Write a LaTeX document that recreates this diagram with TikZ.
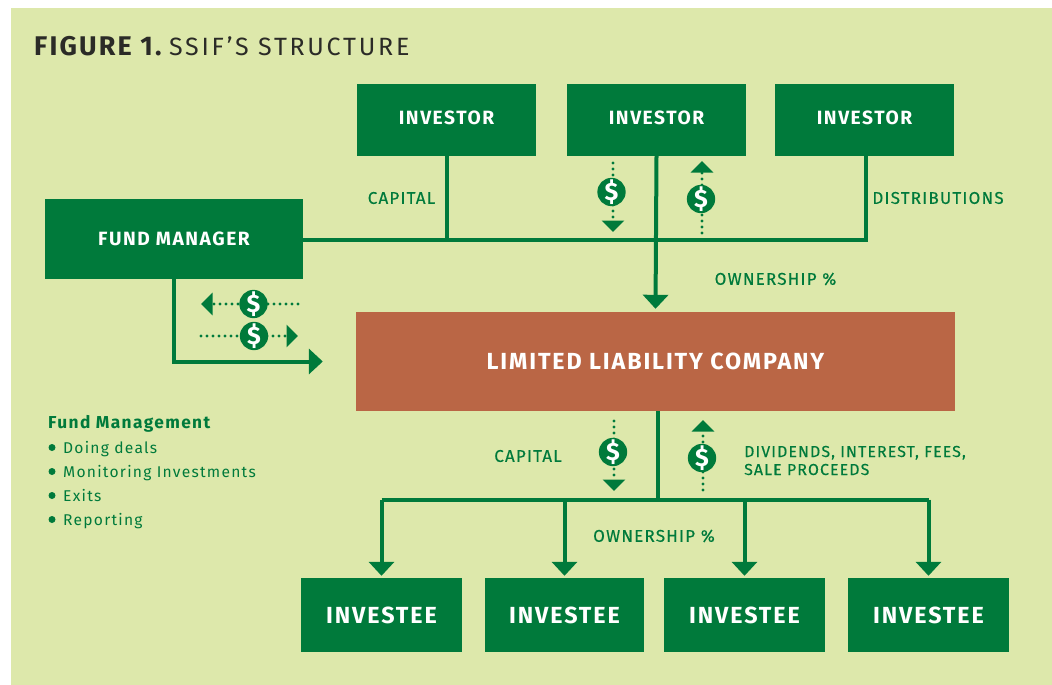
\documentclass[tikz,border=0pt]{standalone}
\usepackage{fontspec}
\setmainfont{Fira Sans}
\newfontfamily\wide[LetterSpace=8]{Fira Sans}
\newfontfamily\widest[LetterSpace=11]{Fira Sans}
\newfontfamily\labfont[LetterSpace=7,FakeBold=0.3]{Fira Sans}
\usetikzlibrary{arrows.meta}
\definecolor{panel}{HTML}{DDE8AB}
\definecolor{fundgreen}{HTML}{007A3B}
\definecolor{rust}{HTML}{BA6645}
\definecolor{ink}{HTML}{2B2B27}
\tikzset{
	box/.style={fill=fundgreen, text=white, inner sep=0pt, font=\wide\bfseries\fontsize{19.2}{22}\selectfont},
	bigbox/.style={box, font=\wide\bfseries\fontsize{23.3}{26}\selectfont},
	lab/.style={text=fundgreen, inner sep=0pt, font=\labfont\fontsize{17}{20}\selectfont},
	link/.style={draw=fundgreen, line width=4pt},
	flow/.style={link, -{Triangle[length=14pt,width=25pt]}},
	money/.style={draw=fundgreen, line width=3.4pt, line cap=round, dash pattern=on 0pt off 6pt, -{Triangle[length=11.5pt,width=22pt,line cap=butt]}},
	badge/.style={circle, fill=fundgreen, text=white, minimum size=28pt, inner sep=0pt, font=\bfseries\fontsize{25}{25}\selectfont}
}
\begin{document}
\begin{tikzpicture}[x=1pt, y=-1pt, line join=miter]
	\useasboundingbox (0,0) rectangle (1052,685);
	\fill[white] (0,0) rectangle (1052,685);
	\fill[panel] (11,8) rectangle (1052,685);
	\node[anchor=base west, inner sep=0pt, text=ink, font=\fontsize{27}{30}\selectfont] (title) at (34,56) {{\wide\bfseries FIGURE 1.}\hspace{-2pt} {\widest\fontsize{25}{30}\selectfont SSIF’S STRUCTURE}};
	% investors
	\foreach \i/\xc in {1/446.5,2/656.5,3/864.5}
		\node[box, text depth=4pt, minimum width=179pt, minimum height=72pt] (inv\i) at (\xc,120) {INVESTOR};
	\node[box, minimum width=258pt, minimum height=80pt] (mgr) at (174,239) {FUND MANAGER};
	\node[bigbox, fill=rust, minimum width=599pt, minimum height=99pt] (llc) at (655.5,361.5) {LIMITED LIABILITY COMPANY};
	% investees
	\foreach \i/\xc/\w in {1/381.5/161,2/564.5/159,3/744.5/161,4/928.5/161}
		\node[bigbox, minimum width=\w pt, minimum height=74pt] (ee\i) at (\xc,615) {INVESTEE};
	% top lines
	\coordinate (j3) at (866,240);
	\coordinate (trunk) at (658,499.5);
	\draw[link] (mgr.east |- j3) -- (j3) -- (inv3.south -| j3);
	\draw[link] (inv1.south) -- (inv1.south |- j3);
	\draw[flow, shorten >=3pt] (inv2.south) -- (llc.north);
	\draw[flow, shorten >=33pt] (mgr.south) |- (llc.west);
	% lower lines
	\draw[link] (llc.south -| trunk) -- (trunk);
	\draw[link, line cap=square] (ee1.north |- trunk) -- (ee4.north |- trunk);
	\foreach \i in {1,...,4}
		\draw[flow, shorten >=2pt] (ee\i.north |- trunk) -- (ee\i.north);
	% money flows
	\foreach \n/\xa/\ya/\xb/\yb in {a/613/163/613/232, b/702/233/702/161, c/298/304/201/304, d/201/336/298/336, e/614/421/614/491, f/703/490/703/420}{
		\coordinate (\n0) at (\xa,\ya);
		\coordinate (\n1) at (\xb,\yb);
		\draw[money] (\n0) -- (\n1);
	}
	\foreach \n/\xc/\yc in {a/611.5/192,b/701/199,c/253.5/304,d/254/336,e/613/452,f/702/458}
		\node[badge] (s\n) at (\xc,\yc) {\$};
	% labels
	\node[lab] (capa) at (401.5,198) {CAPITAL};
	\node[lab] (dist) at (938,198) {DISTRIBUTIONS};
	\node[lab] (owna) at (775.5,279) {OWNERSHIP \%};
	\node[lab] (capb) at (528,456) {CAPITAL};
	\node[lab] (ownb) at (654,536) {OWNERSHIP \%};
	\node[lab, anchor=base west, font=\labfont\fontsize{15.9}{18}\selectfont] (diva) at (744,457) {DIVIDENDS, INTEREST, FEES,};
	\node[lab, anchor=base west, font=\labfont\fontsize{15.9}{18}\selectfont] (divb) at (744,475) {SALE PROCEEDS};
	% fund management list
	\node[lab, anchor=base west, font=\wide\bfseries\fontsize{17.3}{20}\selectfont] (fm) at (48,428) {Fund Management};
	\foreach \i/\yb/\t in {1/453/Doing deals,2/477/Monitoring Investments,3/501/Exits,4/525/Reporting}{
		\fill[fundgreen] (52,\yb-5.5) circle(3.5pt);
		\node[lab, anchor=base west, font=\wide\fontsize{15.6}{20}\selectfont] (item\i) at (63,\yb) {\t};
	}
\end{tikzpicture}
\end{document}
